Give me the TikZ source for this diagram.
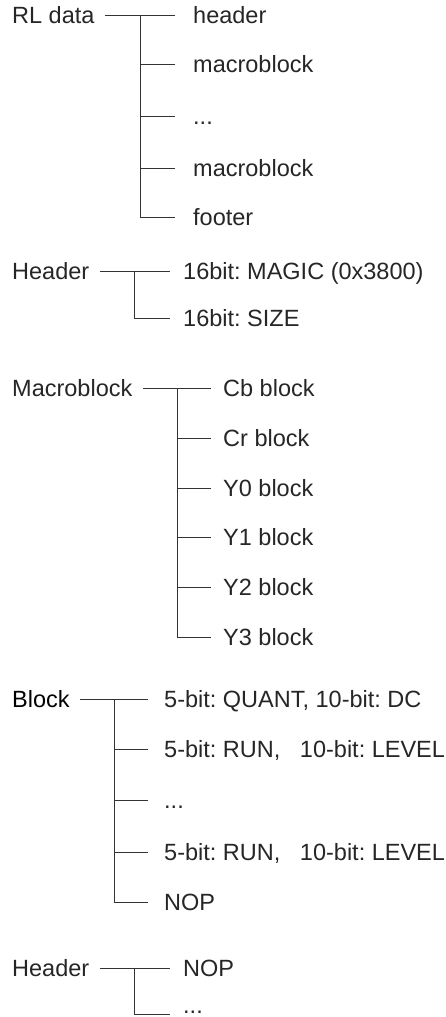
\documentclass[tikz,border=0pt]{standalone}
\usepackage{fontspec}
\setmainfont{Liberation Sans}
\frenchspacing
\begin{document}
\begin{tikzpicture}[x=1pt,y=-1pt,
  lbl/.style={inner sep=0pt, anchor=base west, font=\fontsize{23.5}{28}\selectfont, text=black!85},
  rootlbl/.style={lbl},
  wire/.style={line width=0.9pt, draw=black!80},
  rootwire/.style={wire, shorten <=10.5pt},
]
\useasboundingbox (0,0) rectangle (446,1017);

% ---------- Tree 1: RL data ----------
\node[rootlbl] (rl) at (12,23.5) {RL data};
\node[lbl] (rlA) at (193,23.5) {header};
\node[lbl] (rlB) at (193,72.5) {macroblock};
\node[lbl] (rlC) at (193,124.5) {...};
\node[lbl] (rlD) at (193,176.5) {macroblock};
\node[lbl] (rlE) at (193,225.5) {footer};
\coordinate (a1) at (140,15);
\coordinate (a2) at (140,64);
\coordinate (a3) at (140,116);
\coordinate (a4) at (140,168);
\coordinate (a5) at (140,217);
\draw[rootwire, shorten >=18pt] (a1 -| rl.east) -- (a1 -| rlA.west);
\draw[wire] (a1) -- (a5);
\draw[wire, shorten >=18pt] (a2) -- (a2 -| rlB.west);
\draw[wire, shorten >=18pt] (a3) -- (a3 -| rlC.west);
\draw[wire, shorten >=18pt] (a4) -- (a4 -| rlD.west);
\draw[wire, shorten >=18pt] (a5) -- (a5 -| rlE.west);

% ---------- Tree 2: Header ----------
\node[rootlbl] (hd) at (12,279.5) {Header};
\node[lbl] (hdA) at (183,279.5) {16bit: MAGIC (0x3800)};
\node[lbl] (hdB) at (183,326.5) {16bit: SIZE};
\coordinate (b1) at (134,271);
\coordinate (b2) at (134,318);
\draw[rootwire, shorten >=13pt] (b1 -| hd.east) -- (b1 -| hdA.west);
\draw[wire] (b1) -- (b2);
\draw[wire, shorten >=13pt] (b2) -- (b2 -| hdB.west);

% ---------- Tree 3: Macroblock ----------
\node[rootlbl] (mb) at (12,396.5) {Macroblock};
\node[lbl] (mbA) at (223,396.5) {Cb block};
\node[lbl] (mbB) at (223,446.5) {Cr block};
\node[lbl] (mbC) at (223,496.5) {Y0 block};
\node[lbl] (mbD) at (223,545.5) {Y1 block};
\node[lbl] (mbE) at (223,595.5) {Y2 block};
\node[lbl] (mbF) at (223,645.5) {Y3 block};
\coordinate (c1) at (177,388);
\coordinate (c2) at (177,438);
\coordinate (c3) at (177,488);
\coordinate (c4) at (177,537);
\coordinate (c5) at (177,587);
\coordinate (c6) at (177,637);
\draw[rootwire, shorten >=12pt] (c1 -| mb.east) -- (c1 -| mbA.west);
\draw[wire] (c1) -- (c6);
\draw[wire, shorten >=12pt] (c2) -- (c2 -| mbB.west);
\draw[wire, shorten >=12pt] (c3) -- (c3 -| mbC.west);
\draw[wire, shorten >=12pt] (c4) -- (c4 -| mbD.west);
\draw[wire, shorten >=12pt] (c5) -- (c5 -| mbE.west);
\draw[wire, shorten >=12pt] (c6) -- (c6 -| mbF.west);

% ---------- Tree 4: Block ----------
\node[rootlbl, text=black] (bk) at (12,707.5) {Block};
\node[lbl] (bkA) at (164,707.5) {5-bit: QUANT, 10-bit: DC};
\node[lbl] (bkB) at (164,757.5) {5-bit: RUN,\ \ \ 10-bit: LEVEL};
\node[lbl] (bkC) at (164,808.5) {...};
\node[lbl] (bkD) at (164,860.5) {5-bit: RUN,\ \ \ 10-bit: LEVEL};
\node[lbl] (bkE) at (164,910.5) {NOP};
\coordinate (d1) at (114,699);
\coordinate (d2) at (114,749);
\coordinate (d3) at (114,800);
\coordinate (d4) at (114,852);
\coordinate (d5) at (114,902);
\draw[rootwire, shorten >=16pt] (d1 -| bk.east) -- (d1 -| bkA.west);
\draw[wire] (d1) -- (d5);
\draw[wire, shorten >=16pt] (d2) -- (d2 -| bkB.west);
\draw[wire, shorten >=16pt] (d3) -- (d3 -| bkC.west);
\draw[wire, shorten >=16pt] (d4) -- (d4 -| bkD.west);
\draw[wire, shorten >=16pt] (d5) -- (d5 -| bkE.west);

% ---------- Tree 5: Header ----------
\node[rootlbl] (hx) at (12,976.5) {Header};
\node[lbl] (hxA) at (183,976.5) {NOP};
\node[lbl] (hxB) at (183,1013) {...};
\coordinate (e1) at (134,968);
\coordinate (e2) at (134,1014);
\draw[rootwire, shorten >=13pt] (e1 -| hx.east) -- (e1 -| hxA.west);
\draw[wire] (e1) -- (e2);
\draw[wire, shorten >=13pt] (e2) -- (e2 -| hxB.west);
\end{tikzpicture}
\end{document}
